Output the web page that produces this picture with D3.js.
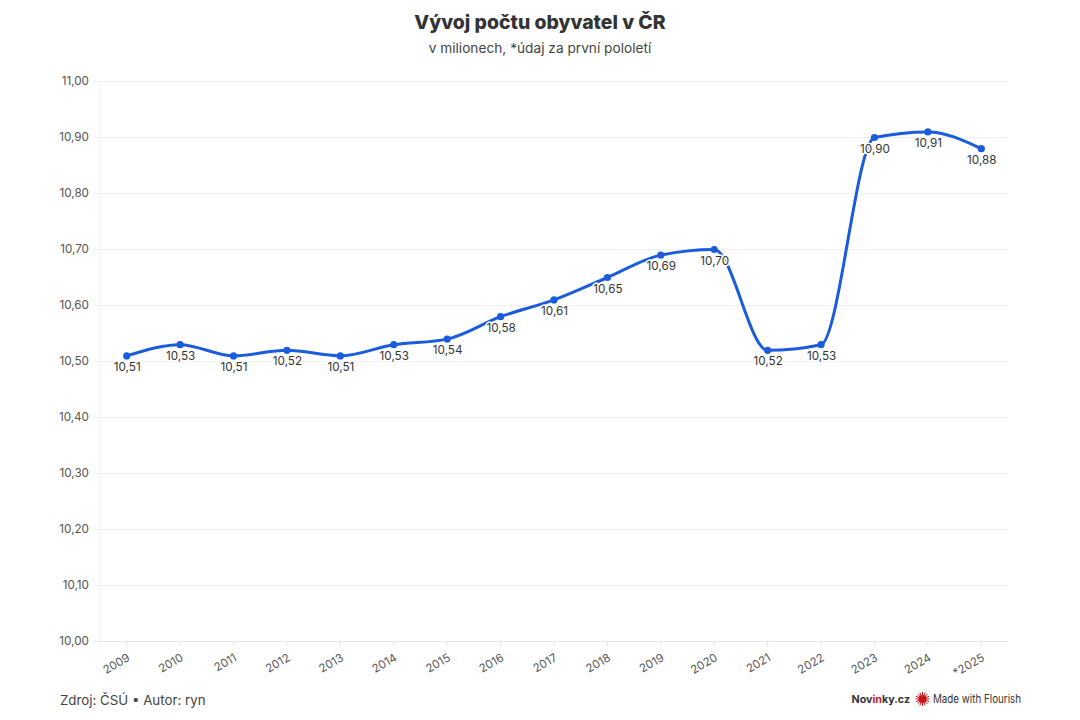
<!DOCTYPE html>
<html><head><meta charset="utf-8">
<script src="https://cdn.jsdelivr.net/npm/d3@7/dist/d3.min.js"></script>
<style>
html,body{margin:0;padding:0;background:#fff}
svg{display:block}
text{font-family:Inter,"Noto Sans",sans-serif}
</style></head><body>
<svg id="c" width="1080" height="720"></svg>
<script>
const years=["2009","2010","2011","2012","2013","2014","2015","2016","2017","2018","2019","2020","2021","2022","2023","2024","*2025"];
const values=[10.51,10.53,10.51,10.52,10.51,10.53,10.54,10.58,10.61,10.65,10.69,10.70,10.52,10.53,10.90,10.91,10.88];
const yTicks=[10,10.1,10.2,10.3,10.4,10.5,10.6,10.7,10.8,10.9,11];
const title="Vývoj počtu obyvatel v ČR";
const subtitle="v milionech, *údaj za první pololetí";
const source="Zdroj: ČSÚ • Autor: ryn";
const fmt=v=>v.toFixed(2).replace(".",",");

const svg=d3.select("#c");
const x=d3.scaleBand().domain(years).range([100,1008]);
const y=d3.scaleLinear().domain([10,11]).range([641.5,81.5]);
const cx=d=>x(d)+x.bandwidth()/2;

svg.append("text").attr("x",540).attr("y",29).attr("text-anchor","middle")
  .attr("font-size",19.4).attr("font-weight",800).attr("fill","#333").text(title);
svg.append("text").attr("x",540).attr("y",53).attr("text-anchor","middle")
  .attr("font-size",13.7).attr("fill","#444").text(subtitle);

// grid
svg.append("g").selectAll("line").data(yTicks).join("line")
  .attr("x1",93).attr("x2",1008).attr("y1",d=>y(d)).attr("y2",d=>y(d))
  .attr("stroke",d=>d===10?"#e6e6e6":"#f0f0f0").attr("stroke-width",1);
svg.append("line").attr("x1",100).attr("x2",100).attr("y1",81).attr("y2",641).attr("stroke","#efefef");

svg.append("g").selectAll("text").data(yTicks).join("text")
  .attr("x",89).attr("y",d=>y(d)+3.2).attr("text-anchor","end")
  .attr("font-size",11.7).attr("fill","#555").text(fmt);

// x axis
svg.append("g").selectAll("line").data(years).join("line")
  .attr("x1",cx).attr("x2",cx).attr("y1",641).attr("y2",647).attr("stroke","#e6e6e6");
svg.append("g").selectAll("text").data(years).join("text")
  .attr("text-anchor","end").attr("font-size",11.5).attr("fill","#555")
  .attr("transform",d=>`translate(${cx(d)},${653}) rotate(-30)`)
  .attr("dy","0.7em").text(d=>d);

// line
const line=d3.line().x((d,i)=>cx(years[i])).y(d=>y(d)).curve(d3.curveMonotoneX);
svg.append("path").attr("d",line(values)).attr("fill","none").attr("stroke","#1a5cdc").attr("stroke-width",3);
svg.append("g").selectAll("circle").data(values).join("circle")
  .attr("cx",(d,i)=>cx(years[i])).attr("cy",d=>y(d)).attr("r",3.6).attr("fill","#1a5cdc");

// labels
svg.append("g").selectAll("text").data(values).join("text")
  .attr("x",(d,i)=>cx(years[i])+0.5).attr("y",d=>y(d)+15).attr("text-anchor","middle")
  .attr("font-size",11.7).attr("fill","#333")
  .attr("stroke","#fff").attr("stroke-width",3).attr("paint-order","stroke").attr("stroke-linejoin","round")
  .text(fmt);

// footer
svg.append("text").attr("x",60).attr("y",705).attr("font-size",13.3).attr("fill","#444").text(source);
const nov=svg.append("text").attr("x",851.5).attr("y",703).attr("font-size",10.7).attr("font-weight",700).attr("fill","#333");
nov.append("tspan").text("Nov");
nov.append("tspan").attr("fill","#c0202a").text("in");
nov.append("tspan").text("ky.cz");
const burst=svg.append("g").attr("transform","translate(922.5,699)");
burst.selectAll("line").data(d3.range(16)).join("line")
  .attr("x1",0).attr("y1",0)
  .attr("x2",d=>7*Math.cos(d*Math.PI/8)).attr("y2",d=>7*Math.sin(d*Math.PI/8))
  .attr("stroke","#c8161d").attr("stroke-width",1);
burst.append("circle").attr("r",4).attr("fill","#c8161d");
svg.append("text").attr("x",933).attr("y",703).attr("font-size",11.5).attr("fill","#333").attr("textLength",88).attr("lengthAdjust","spacingAndGlyphs").text("Made with Flourish");
</script>
</body></html>
